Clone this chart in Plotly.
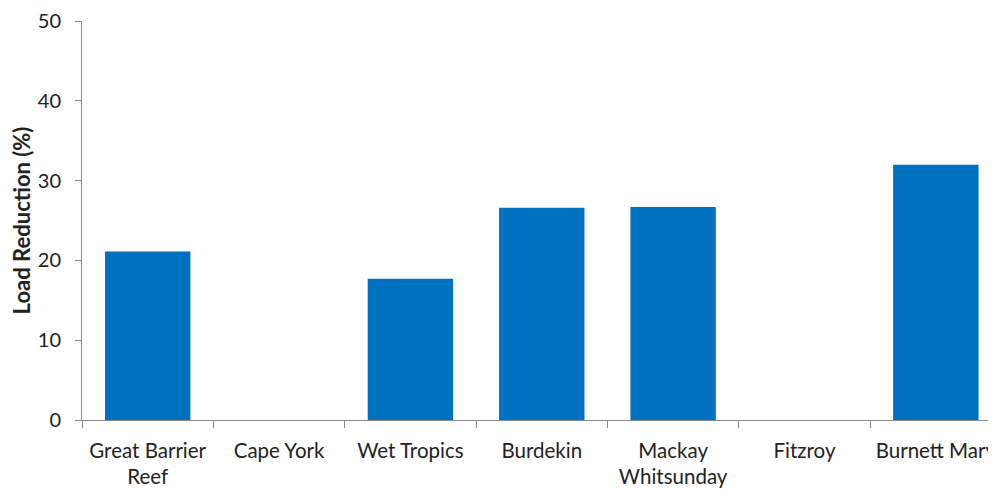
import plotly.graph_objects as go

categories = ["Great Barrier<br>Reef", "Cape York", "Wet Tropics", "Burdekin",
              "Mackay<br>Whitsunday", "Fitzroy", "Burnett Mary"]
load_reduction = [21.1, None, 17.7, 26.6, 26.7, None, 32.0]
y_ticks = [0, 10, 20, 30, 40, 50]

fig = go.Figure()
fig.add_trace(go.Bar(x=categories, y=load_reduction, marker=dict(color="#0070C0", line=dict(width=0))))

fig.update_layout(
    width=988, height=483,
    margin=dict(l=74, r=0, t=12, b=71),
    plot_bgcolor="white", paper_bgcolor="white",
    bargap=0.35,
    showlegend=False,
    font=dict(family="Lato, Open Sans, sans-serif", size=18, color="#222222"),
)
fig.update_xaxes(
    type="category",
    range=[-0.5, 6.435],
    showline=True, linecolor="#8c8c8c", linewidth=1,
    ticks="outside", ticklen=7, tickcolor="#8c8c8c", tickson="boundaries",
    showgrid=False, zeroline=False,
    tickfont=dict(size=20.5),
    ticklabelstandoff=12,
    ticklabeloverflow="allow",
)
fig.update_yaxes(
    range=[0, 50], tickvals=y_ticks,
    showline=True, linecolor="#8c8c8c", linewidth=1,
    ticks="outside", ticklen=6, tickcolor="#8c8c8c",
    showgrid=False, zeroline=False,
    tickfont=dict(size=20),
    ticklabelstandoff=10,
    ticklabeloverflow="allow",
    title=dict(text="<b>Load Reduction (%)</b>", font=dict(size=22), standoff=6),
)

fig.write_html("out.html")
